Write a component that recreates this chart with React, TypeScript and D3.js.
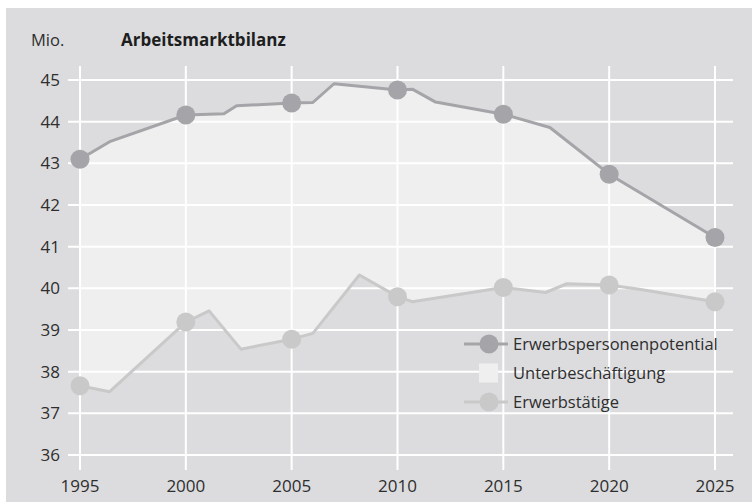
import { useEffect, useRef } from 'react'
import * as d3 from 'd3'

// Erwerbspersonenpotential (upper line), vertices
const potentialYears = [1995, 1996.4, 2000, 2001.8, 2002.4, 2005, 2006, 2007, 2010, 2010.7, 2011.8, 2015, 2017.2, 2020, 2025]
const potentialValues = [43.1, 43.52, 44.16, 44.19, 44.38, 44.45, 44.46, 44.91, 44.76, 44.78, 44.47, 44.18, 43.86, 42.74, 41.22]

// Erwerbstätige (lower line)
const employedYears = [1995, 1996.4, 2000, 2001.1, 2002.6, 2005, 2006, 2008.2, 2010, 2010.7, 2015, 2017, 2018, 2020, 2021.5, 2025]
const employedValues = [37.66, 37.52, 39.19, 39.46, 38.54, 38.78, 38.92, 40.32, 39.8, 39.68, 40.02, 39.9, 40.11, 40.08, 39.97, 39.68]

const markerYears = [1995, 2000, 2005, 2010, 2015, 2020, 2025]
const yTicks = [36, 37, 38, 39, 40, 41, 42, 43, 44, 45]
const legendLabels = ['Erwerbspersonenpotential', 'Unterbeschäftigung', 'Erwerbstätige']

const W = 752
const H = 502
const FONT = '"Open Sans", "DejaVu Sans", sans-serif'

const BG = '#dcdcde'
const GAP = '#efefef'
const UPPER = '#a5a5a9'
const LOWER = '#c9c9ca'
const TEXT = '#2e2e2e'

export default function App() {
  const svgRef = useRef<SVGSVGElement>(null)

  useEffect(() => {
    if (!svgRef.current) return
    const svg = d3.select(svgRef.current)
    svg.selectAll('*').remove()

    const x = d3.scaleLinear().domain([1995, 2025]).range([80, 715])
    const y = d3.scaleLinear().domain([36, 45]).range([455, 80])

    // panel background
    svg.append('rect')
      .attr('x', 6).attr('y', 8)
      .attr('width', W - 6).attr('height', H - 8)
      .attr('fill', BG)

    const upper = potentialYears.map((yr, i) => [yr, potentialValues[i]] as [number, number])
    const lower = employedYears.map((yr, i) => [yr, employedValues[i]] as [number, number])

    const line = d3.line<[number, number]>().x(d => x(d[0])).y(d => y(d[1]))

    // light band between the two lines: upper forward + lower backward
    const band = [...upper, ...lower.slice().reverse()]
    svg.append('path')
      .attr('d', line(band) + 'Z')
      .attr('fill', GAP)

    // grid
    const grid = svg.append('g').attr('stroke', '#fff').attr('stroke-width', 2)
    grid.selectAll('line.h')
      .data(yTicks)
      .join('line')
      .attr('class', 'h')
      .attr('x1', 68).attr('x2', 733)
      .attr('y1', d => y(d)).attr('y2', d => y(d))
    grid.selectAll('line.v')
      .data(markerYears)
      .join('line')
      .attr('class', 'v')
      .attr('x1', d => x(d)).attr('x2', d => x(d))
      .attr('y1', 66).attr('y2', 470)

    // y labels
    svg.append('g')
      .selectAll('text')
      .data(yTicks)
      .join('text')
      .attr('x', 60)
      .attr('y', d => y(d))
      .attr('dy', '0.36em')
      .attr('text-anchor', 'end')
      .style('font-family', FONT)
      .style('font-size', '17px')
      .style('fill', TEXT)
      .text(d => d)

    // x labels
    svg.append('g')
      .selectAll('text')
      .data(markerYears)
      .join('text')
      .attr('x', d => x(d))
      .attr('y', 492)
      .attr('text-anchor', 'middle')
      .style('font-family', FONT)
      .style('font-size', '17px')
      .style('fill', TEXT)
      .text(d => d)

    svg.append('text')
      .attr('x', 31).attr('y', 46)
      .style('font-family', FONT).style('font-size', '16.5px').style('fill', TEXT)
      .text('Mio.')
    svg.append('text')
      .attr('x', 121).attr('y', 46)
      .style('font-family', FONT).style('font-size', '17px').style('font-weight', 'bold').style('fill', '#1e1e1e')
      .text('Arbeitsmarktbilanz')

    const drawSeries = (pts: [number, number][], color: string) => {
      svg.append('path')
        .attr('d', line(pts))
        .attr('fill', 'none')
        .attr('stroke', color)
        .attr('stroke-width', 3)
        .attr('stroke-linejoin', 'round')
      svg.append('g')
        .selectAll('circle')
        .data(pts.filter(p => markerYears.includes(p[0])))
        .join('circle')
        .attr('cx', d => x(d[0]))
        .attr('cy', d => y(d[1]))
        .attr('r', 9.5)
        .attr('fill', color)
    }
    drawSeries(lower, LOWER)
    drawSeries(upper, UPPER)

    // legend
    const lg = svg.append('g').attr('transform', 'translate(464,344)')
    const rowGap = 29
    legendLabels.forEach((label, i) => {
      const row = lg.append('g').attr('transform', `translate(0,${i * rowGap})`)
      if (i === 1) {
        row.append('rect')
          .attr('x', 15).attr('y', -9.5)
          .attr('width', 19).attr('height', 19)
          .attr('fill', GAP)
      } else {
        const c = i === 0 ? UPPER : LOWER
        row.append('line')
          .attr('x1', 0).attr('x2', 44)
          .attr('stroke', c).attr('stroke-width', 3)
        row.append('circle')
          .attr('cx', 25).attr('r', 9.5).attr('fill', c)
      }
      row.append('text')
        .attr('x', 49)
        .attr('dy', '0.36em')
        .style('font-family', FONT)
        .style('font-size', '16.5px')
        .style('fill', TEXT)
        .text(label)
    })
  }, [])

  return (
    <svg
      ref={svgRef}
      width={W}
      height={H}
      style={{ position: 'absolute', left: 0, top: 0, background: '#fff' }}
    />
  )
}
